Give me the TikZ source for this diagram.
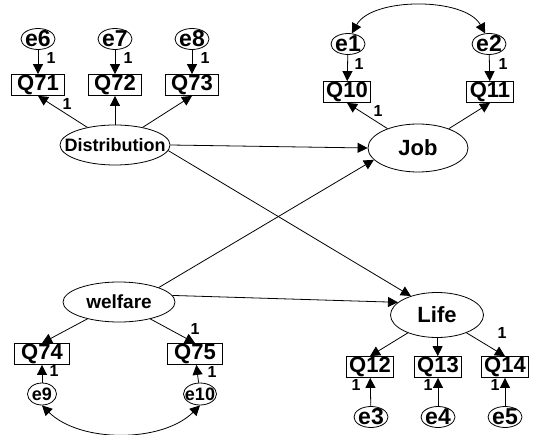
\documentclass[tikz,border=0pt]{standalone}
\usepackage{fontspec}
\setmainfont{Liberation Sans}
\usetikzlibrary{shapes.geometric,arrows.meta}

\begin{document}
\begin{tikzpicture}[x=1pt,y=-1pt,line width=0.8pt,
  arr/.style={-{Triangle[length=10pt,width=10pt]}},
  dblarr/.style={{Triangle[length=10pt,width=10pt]}-{Triangle[length=10pt,width=10pt]}},
  lat/.style 2 args={ellipse,draw,inner sep=0pt,label={[font=\fontsize{#2}{#2}\selectfont\bfseries]center:#1}},
  item/.style={rectangle,draw,inner sep=0pt,minimum width=47pt,minimum height=21pt,font=\fontsize{22}{22}\selectfont\bfseries},
  err/.style 2 args={ellipse,draw,inner sep=0pt,minimum width=34pt,minimum height=21pt,label={[font=\fontsize{#2}{#2}\selectfont\bfseries,inner sep=0pt]center:#1}},
  wt/.style={font=\fontsize{16}{16}\selectfont\bfseries,inner sep=0pt}]

\useasboundingbox (0,0) rectangle (534,435);

% Distribution
\node[lat={Distribution}{18},minimum width=110pt,minimum height=40pt] (dist) at (115,145) {};
\node[item,minimum width=53pt] (q71) at (38,85) {Q71};
\node[item,minimum width=53pt] (q72) at (115,85) {Q72};
\node[item,minimum width=53pt] (q73) at (192,85) {Q73};
\node[err={e6}{23}] (e6) at (38,39) {};
\node[err={e7}{23}] (e7) at (115,39) {};
\node[err={e8}{23}] (e8) at (192,39) {};

% Job
\node[lat={Job}{22},minimum width=100pt,minimum height=48pt] (job) at (418,148) {};
\node[item] (q10) at (347,92) {Q10};
\node[item] (q11) at (490,92) {Q11};
\node[err={e1}{23}] (e1) at (348,44) {};
\node[err={e2}{23}] (e2) at (489,44) {};

% welfare
\node[lat={welfare}{19},minimum width=112pt,minimum height=40pt] (welf) at (119,302) {};
\node[item,minimum width=55pt] (q74) at (42,354) {Q74};
\node[item,minimum width=55pt] (q75) at (195,354) {Q75};
\node[err={e9}{18},minimum width=29pt,minimum height=22pt] (e9) at (42,394) {};
\node[err={e10}{18},minimum width=33pt,minimum height=22pt] (e10) at (200,394) {};

% Life
\node[lat={Life}{22},minimum width=93pt,minimum height=45pt] (life) at (437,315) {};
\node[item] (q12) at (370,367) {Q12};
\node[item] (q13) at (438,367) {Q13};
\node[item] (q14) at (505,367) {Q14};
\node[err={e3}{23}] (e3) at (371,417) {};
\node[err={e4}{23}] (e4) at (438,417) {};
\node[err={e5}{23}] (e5) at (505,417) {};

% Loadings
\draw[arr] (dist) -- (q71.south);
\draw[arr] (dist) -- (q72);
\draw[arr] (dist) -- (q73.south);
\draw[arr] (job) -- (q10.south);
\draw[arr] (job) -- (q11.south);
\draw[arr] (welf) -- (q74.north);
\draw[arr] (welf) -- (q75.north);
\draw[arr] (life) -- (q12.north);
\draw[arr] (life) -- (q13);
\draw[arr] (life) -- (q14.north);

% Errors
\draw[arr] (e6) -- (q71);
\draw[arr] (e7) -- (q72);
\draw[arr] (e8) -- (q73);
\draw[arr] (e1) -- (q10);
\draw[arr] (e2) -- (q11);
\draw[arr] (e9) -- (q74);
\draw[arr] (e10) -- (q75);
\draw[arr] (e3) -- (q12);
\draw[arr] (e4) -- (q13);
\draw[arr] (e5) -- (q14);

% Covariances
\draw[dblarr] (e1.70) .. controls (372,-3) and (465,-3) .. (e2.110);
\draw[dblarr] (e9.south) .. controls (80,443) and (162,443) .. (e10.south);

% Paths
\draw[arr] (dist.east) -- (job.west);
\draw[arr] (dist.-6) -- (life.144);
\draw[arr] (welf.20) -- (job.195);
\draw[arr] (welf.7) -- (life.162);

% Fixed weights
\node[wt] (w6) at (51,58) {1};
\node[wt] (w7) at (128,58) {1};
\node[wt] (w8) at (205,58) {1};
\node[wt] (w71) at (67,104) {1};
\node[wt] (w1) at (359,64) {1};
\node[wt] (w2) at (503,64) {1};
\node[wt] (w10) at (378,111) {1};
\node[wt] (w75) at (195,329) {1};
\node[wt] (w9) at (54,371) {1};
\node[wt] (w11) at (212,372) {1};
\node[wt] (w14) at (502,333) {1};
\node[wt] (w3) at (356,385) {1};
\node[wt] (w4) at (428,385) {1};
\node[wt] (w5) at (495,385) {1};

\end{tikzpicture}
\end{document}
